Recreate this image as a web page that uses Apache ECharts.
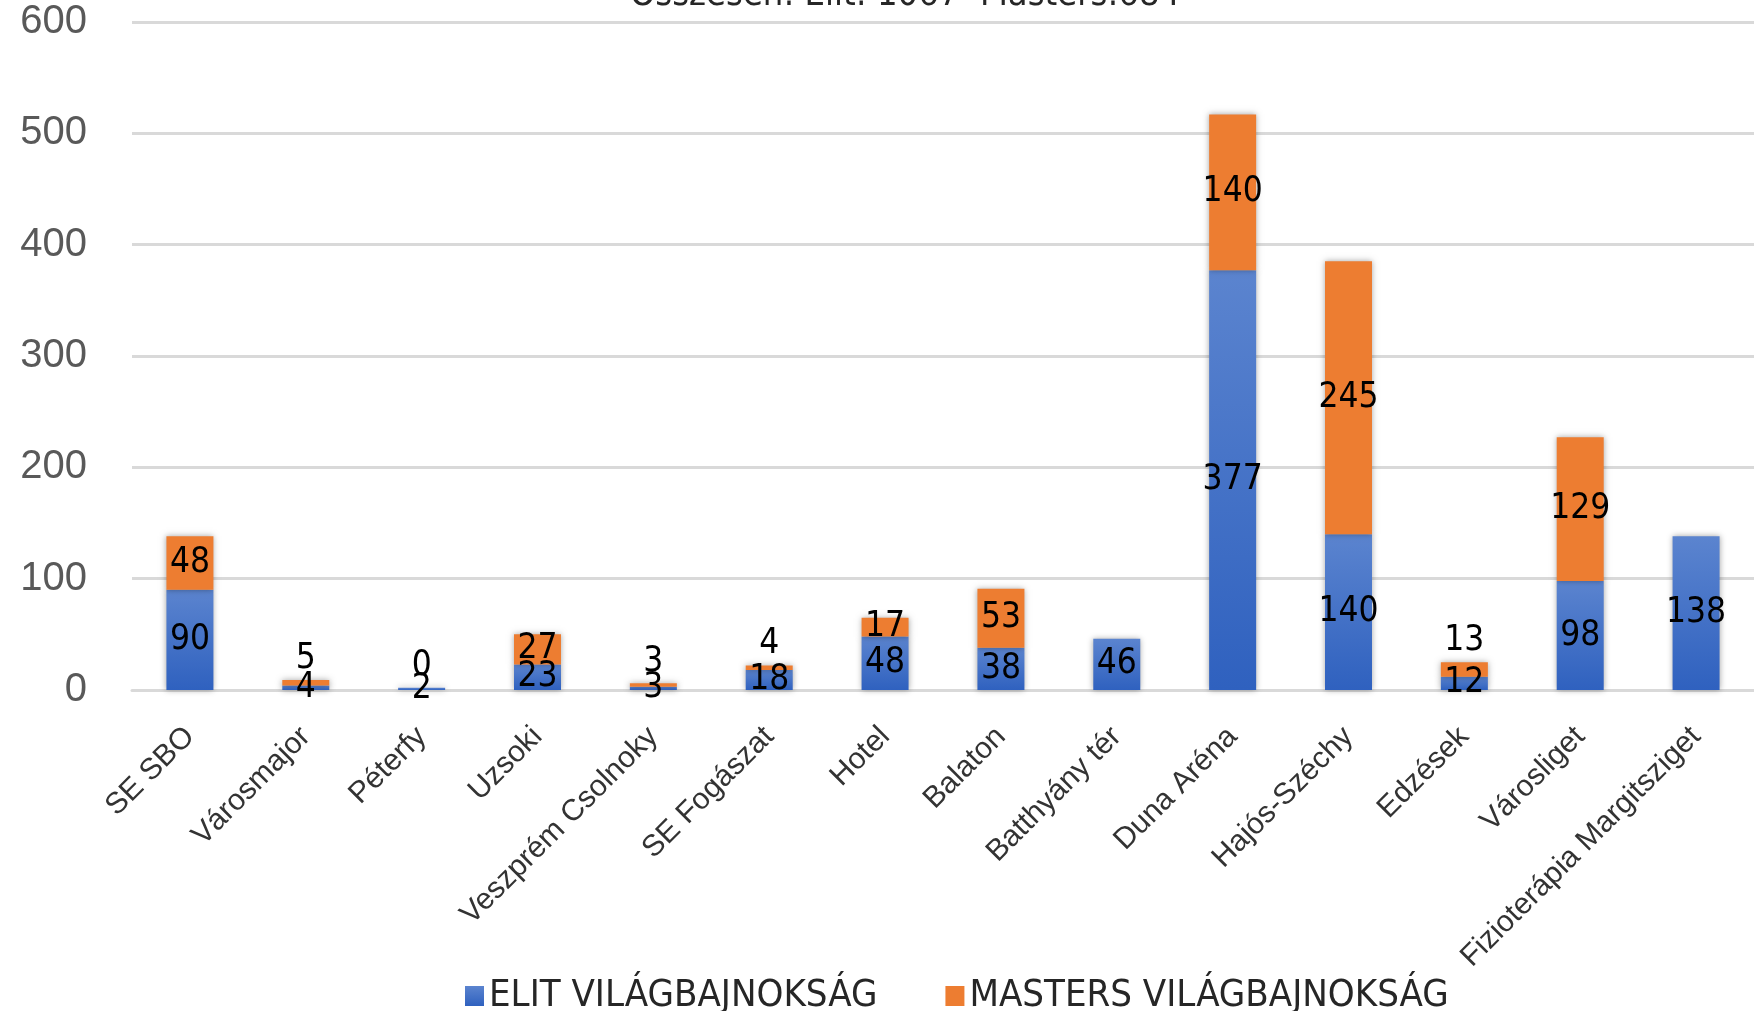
<!doctype html>
<html>
<head>
<meta charset="utf-8">
<style>
  html, body { margin: 0; padding: 0; background: #fff; }
  #chart-panel { width: 1754px; height: 1011px; }
</style>
<script src="https://cdn.jsdelivr.net/npm/echarts@6/dist/echarts.min.js"></script>
</head>
<body>
<div id="chart-panel"></div>
<script type="text/javascript">
// adatok
var helyszinek = ['SE SBO', 'Városmajor', 'Péterfy', 'Uzsoki', 'Veszprém Csolnoky', 'SE Fogászat',
    'Hotel', 'Balaton', 'Batthyány tér', 'Duna Aréna', 'Hajós-Széchy', 'Edzések', 'Városliget',
    'Fizioterápia Margitsziget'];
var elit = [90, 4, 2, 23, 3, 18, 48, 38, 46, 377, 140, 12, 98, 138];
var masters = [48, 5, 0, 27, 3, 4, 17, 53, null, 140, 245, 13, 129, null];
var yTicks = [0, 100, 200, 300, 400, 500, 600];

var narrow = '"Liberation Sans Narrow", "DejaVu Sans Condensed", "Liberation Sans", sans-serif';
var myChart = echarts.init(document.getElementById('chart-panel'));

// kis értékeknél a címke a hasáb fölé kerül
var mastersData = masters.map(function (v) {
    if (v === null) return null;
    if (v < 15) {
        return { value: v, label: { position: 'top', distance: 4 } };
    }
    return v;
});

var option = {
    animation: false,
    title: {
        text: 'Összesen: Elit: 1067  Masters:684',
        left: 900,
        textAlign: 'center',
        top: -27,
        textStyle: { fontFamily: narrow, fontWeight: 'normal', fontSize: 36, color: '#262626' }
    },
    legend: {
        left: 460,
        top: 972,
        icon: 'rect',
        itemWidth: 19,
        itemHeight: 20,
        itemGap: 68,
        textStyle: { fontFamily: narrow, fontSize: 38, color: '#262626' },
        data: ['ELIT VILÁGBAJNOKSÁG', 'MASTERS VILÁGBAJNOKSÁG']
    },
    grid: {
        left: 132,
        top: 22,
        width: 1635,
        height: 668,
        containLabel: false
    },
    xAxis: {
        type: 'category',
        data: helyszinek,
        axisTick: { show: false },
        axisLine: { show: true, lineStyle: { color: '#d9d9d9', width: 3 } },
        axisLabel: {
            interval: 0,
            rotate: 45,
            margin: 42,
            fontFamily: '"Liberation Sans", Arial, sans-serif',
            fontSize: 30,
            color: '#333333'
        }
    },
    yAxis: {
        type: 'value',
        min: yTicks[0],
        max: yTicks[yTicks.length - 1],
        interval: 100,
        axisLine: { show: false },
        axisTick: { show: false },
        axisLabel: {
            margin: 45,
            fontFamily: '"Liberation Sans", Arial, sans-serif',
            fontSize: 40,
            color: '#595959'
        },
        splitLine: { lineStyle: { color: '#d9d9d9', width: 3 } }
    },
    series: [{
        name: 'ELIT VILÁGBAJNOKSÁG',
        type: 'bar',
        stack: 'ossz',
        barWidth: 47,
        data: elit,
        itemStyle: {
            color: new echarts.graphic.LinearGradient(0, 0, 0, 1, [
                { offset: 0, color: '#5b84cf' },
                { offset: 1, color: '#2f61bf' }
            ]),
            shadowBlur: 6,
            shadowColor: 'rgba(0,0,0,0.35)'
        },
        label: {
            show: true,
            position: 'inside',
            fontFamily: narrow,
            fontSize: 35,
            color: '#000'
        }
    }, {
        name: 'MASTERS VILÁGBAJNOKSÁG',
        type: 'bar',
        stack: 'ossz',
        barWidth: 47,
        data: mastersData,
        itemStyle: {
            color: '#ed7d31',
            shadowBlur: 6,
            shadowColor: 'rgba(0,0,0,0.35)'
        },
        label: {
            show: true,
            position: 'inside',
            fontFamily: narrow,
            fontSize: 35,
            color: '#000'
        }
    }]
};
myChart.setOption(option);
</script>
</body>
</html>
